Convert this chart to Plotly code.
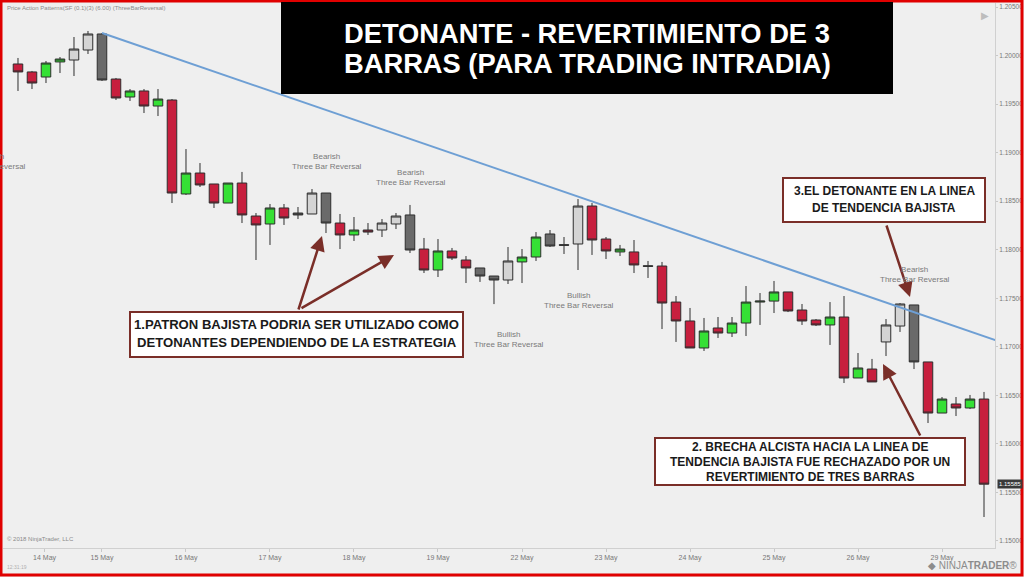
import plotly.graph_objects as go

# ---------------- data (4-hour EUR/USD style bars) ----------------
bar_index = list(range(70))
opens = [1.19913, 1.19831, 1.19779, 1.19934, 1.19954, 1.20057, 1.20222, 1.19758, 1.19573, 1.19635,
         1.19480, 1.19542, 1.18574, 1.18790, 1.18677, 1.18481, 1.18687, 1.18347, 1.18265, 1.18430,
         1.18378, 1.18368, 1.18584, 1.18275, 1.18152, 1.18203, 1.18203, 1.18265, 1.18358, 1.18007,
         1.17791, 1.17987, 1.17894, 1.17812, 1.17729, 1.17688, 1.17874, 1.17925, 1.18162, 1.18052,
         1.18059, 1.18450, 1.18110, 1.17977, 1.17977, 1.17835, 1.17832, 1.17461, 1.17266, 1.16988,
         1.17194, 1.17142, 1.17245, 1.17461, 1.17471, 1.17565, 1.17379, 1.17276, 1.17225, 1.17307,
         1.16679, 1.16771, 1.17050, 1.17214, 1.17431, 1.16844, 1.16318, 1.16411, 1.16370, 1.16462]
highs = [1.19975, 1.19841, 1.19944, 1.19985, 1.20191, 1.20253, 1.20232, 1.19769, 1.19655, 1.19655,
         1.19655, 1.19552, 1.19037, 1.18893, 1.18677, 1.18687, 1.18801, 1.18378, 1.18471, 1.18471,
         1.18440, 1.18625, 1.18584, 1.18368, 1.18337, 1.18275, 1.18316, 1.18378, 1.18461, 1.18121,
         1.18110, 1.18018, 1.17935, 1.17812, 1.17729, 1.18028, 1.18007, 1.18182, 1.18203, 1.18131,
         1.18522, 1.18481, 1.18131, 1.18049, 1.18100, 1.17884, 1.17874, 1.17523, 1.17400, 1.17297,
         1.17307, 1.17307, 1.17626, 1.17554, 1.17678, 1.17565, 1.17441, 1.17286, 1.17461, 1.17523,
         1.16936, 1.16875, 1.17286, 1.17451, 1.17431, 1.16844, 1.16483, 1.16483, 1.16504, 1.16535]
lows = [1.19635, 1.19655, 1.19717, 1.19820, 1.19789, 1.20016, 1.19738, 1.19542, 1.19532, 1.19408,
        1.19377, 1.18481, 1.18564, 1.18646, 1.18430, 1.18481, 1.18275, 1.17894, 1.18049, 1.18255,
        1.18316, 1.18368, 1.18172, 1.18007, 1.18090, 1.18152, 1.18131, 1.18213, 1.17966, 1.17760,
        1.17719, 1.17894, 1.17657, 1.17668, 1.17440, 1.17647, 1.17657, 1.17884, 1.18028, 1.17956,
        1.17791, 1.17946, 1.17904, 1.17935, 1.17760, 1.17709, 1.17183, 1.17050, 1.16988, 1.16957,
        1.17091, 1.17101, 1.17111, 1.17225, 1.17348, 1.17358, 1.17225, 1.17214, 1.17019, 1.16627,
        1.16679, 1.16638, 1.16905, 1.17153, 1.16771, 1.16215, 1.16318, 1.16287, 1.16359, 1.15247]
closes = [1.19831, 1.19717, 1.19923, 1.19964, 1.20067, 1.20222, 1.19748, 1.19563, 1.19635, 1.19480,
          1.19552, 1.18584, 1.18790, 1.18667, 1.18481, 1.18687, 1.18358, 1.18255, 1.18430, 1.18327,
          1.18358, 1.18584, 1.18275, 1.18152, 1.18203, 1.18182, 1.18275, 1.18347, 1.17997, 1.17791,
          1.17987, 1.17915, 1.17812, 1.17729, 1.17688, 1.17884, 1.17925, 1.18131, 1.18038, 1.18046,
          1.18450, 1.18100, 1.17987, 1.18007, 1.17843, 1.17829, 1.17451, 1.17266, 1.16988, 1.17163,
          1.17142, 1.17245, 1.17461, 1.17471, 1.17565, 1.17369, 1.17266, 1.17225, 1.17307, 1.16679,
          1.16782, 1.16638, 1.17225, 1.17441, 1.16844, 1.16318, 1.16462, 1.16370, 1.16462, 1.15585]
# bars flagged by the "Three Bar Reversal" pattern indicator (drawn in gray)
pattern_bars = [4, 5, 6, 20, 21, 22, 26, 27, 28, 33, 34, 35, 38, 39, 40, 45, 62, 63, 64]

day_tick_pos = [1.9, 6, 12, 18, 24, 30, 36, 42, 48, 54, 60, 66]
day_tick_labels = ["14 May", "15 May", "16 May", "17 May", "18 May", "19 May",
                   "22 May", "23 May", "24 May", "25 May", "26 May", "29 May"]
price_ticks = [1.150, 1.155, 1.160, 1.165, 1.170, 1.175, 1.180, 1.185, 1.190, 1.195, 1.200, 1.205]

trend_x = [6, 69.8]
trend_y = [1.20232, 1.17070]
last_price = 1.15585

# ---------------- layout geometry ----------------
W, H = 1024, 577
ML, MR, MT, MB = 3, 29, 3, 29
PW, PH = W - ML - MR, H - MT - MB


def px(x):
    return (x - ML) / PW


def py(y):
    return (H - MB - y) / PH


RED = "#c71f3e"
GREEN = "#35e035"
LGRAY = "#d4d4d4"
DGRAY = "#6a6a6a"
EDGE = "#2e2e2e"
BROWN = "#7a2e28"
BG = "#efefef"
FONT = "Liberation Sans, Arial"

fig = go.Figure()


def add_group(idx, inc_fill, dec_fill):
    if not idx:
        return
    fig.add_trace(go.Candlestick(
        x=[bar_index[i] for i in idx],
        open=[opens[i] for i in idx], high=[highs[i] for i in idx],
        low=[lows[i] for i in idx], close=[closes[i] for i in idx],
        increasing=dict(fillcolor=inc_fill, line=dict(color=EDGE, width=1)),
        decreasing=dict(fillcolor=dec_fill, line=dict(color=EDGE, width=1)),
        whiskerwidth=0, showlegend=False, hoverinfo="skip"))


normal = [i for i in bar_index if i not in pattern_bars]
add_group(normal, GREEN, RED)
add_group(pattern_bars, LGRAY, DGRAY)

fig.add_trace(go.Scatter(x=trend_x, y=trend_y, mode="lines",
                         line=dict(color="#6e9fd4", width=2), showlegend=False, hoverinfo="skip"))

shapes = []
annotations = []

# red frame
shapes.append(dict(type="rect", xref="paper", yref="paper",
                   x0=px(1), x1=px(1022), y0=py(575), y1=py(1),
                   line=dict(color="#e00000", width=3), fillcolor="rgba(0,0,0,0)", layer="above"))
# title box
shapes.append(dict(type="rect", xref="paper", yref="paper",
                   x0=px(281), x1=px(893), y0=py(94), y1=py(2),
                   line=dict(width=0), fillcolor="#000000", layer="above"))
for txt, yy in [("DETONANTE - REVERTIMIENTO DE 3", 33), ("BARRAS (PARA TRADING INTRADIA)", 64)]:
    annotations.append(dict(xref="paper", yref="paper", x=px(587), y=py(yy), text="<b>" + txt + "</b>",
                            showarrow=False, xanchor="center", yanchor="middle",
                            font=dict(family=FONT, size=27.3, color="#ffffff")))

# explanation boxes
boxes = [
    (130, 463, 312, 357, ["1.PATRON BAJISTA PODRIA SER UTILIZADO COMO",
                          "DETONANTES DEPENDIENDO DE LA ESTRATEGIA"], [325, 342], 13.1),
    (655, 965, 438, 485, ["2. BRECHA ALCISTA HACIA LA LINEA DE",
                          "TENDENCIA BAJISTA FUE RECHAZADO POR UN",
                          "REVERTIMIENTO DE TRES BARRAS"], [447, 462, 477], 12.0),
    (783, 985, 178, 222, ["3.EL DETONANTE EN LA LINEA",
                          "DE TENDENCIA BAJISTA"], [191, 208], 12.0),
]
for x0, x1, y0, y1, lines, ys, fs in boxes:
    shapes.append(dict(type="rect", xref="paper", yref="paper",
                       x0=px(x0), x1=px(x1), y0=py(y1), y1=py(y0),
                       line=dict(color=BROWN, width=2), fillcolor="#ffffff", layer="above"))
    for t, yy in zip(lines, ys):
        annotations.append(dict(xref="paper", yref="paper", x=px((x0 + x1) / 2), y=py(yy),
                                text="<b>" + t + "</b>", showarrow=False,
                                xanchor="center", yanchor="middle",
                                font=dict(family=FONT, size=fs, color="#1a1a1a")))

# arrows (tail pixel -> tip pixel)
arrows = [((298, 311), (322, 236)), ((300, 309), (394, 255)),
          ((921, 437), (883, 364)), ((886, 224), (910, 297))]
for (sx, sy), (tx, ty) in arrows:
    annotations.append(dict(xref="paper", yref="paper", x=px(tx), y=py(ty), text="",
                            showarrow=True, ax=sx - tx, ay=sy - ty, arrowhead=2, arrowsize=1.2,
                            arrowwidth=2.5, arrowcolor=BROWN, standoff=0, startstandoff=0))

# pattern labels
patt = [(327, 161, "Bearish<br>Three Bar Reversal"), (411, 177, "Bearish<br>Three Bar Reversal"),
        (509, 339, "Bullish<br>Three Bar Reversal"), (579, 300, "Bullish<br>Three Bar Reversal"),
        (915, 274, "Bearish<br>Three Bar Reversal")]
for x, y, t in patt:
    annotations.append(dict(xref="paper", yref="paper", x=px(x), y=py(y), text=t, showarrow=False,
                            xanchor="center", yanchor="middle", align="center",
                            font=dict(family=FONT, size=8, color="#7a7a7a")))
# label partly scrolled off the left edge, as in the original screenshot
annotations.append(dict(xref="paper", yref="paper", x=px(28), y=py(161),
                        text="Bearish<br>Three Bar Reversal", showarrow=False,
                        xanchor="right", yanchor="middle", align="center",
                        font=dict(family=FONT, size=8, color="#7a7a7a")))

# header / footer small texts
annotations.append(dict(xref="paper", yref="paper", x=px(5), y=py(8),
                        text="Price Action Patterns(SF (0.1)(3) (6.00) (ThreeBarReversal)",
                        showarrow=False, xanchor="left", yanchor="middle",
                        font=dict(family=FONT, size=6, color="#8a8a8a")))
annotations.append(dict(xref="paper", yref="paper", x=px(5), y=py(539),
                        text="© 2018 NinjaTrader, LLC", showarrow=False, xanchor="left", yanchor="middle",
                        font=dict(family=FONT, size=6, color="#8a8a8a")))
annotations.append(dict(xref="paper", yref="paper", x=px(5), y=py(567),
                        text="12:31:19", showarrow=False, xanchor="left", yanchor="middle",
                        font=dict(family=FONT, size=5, color="#b0b0b0")))
annotations.append(dict(xref="paper", yref="paper", x=px(1019), y=py(566),
                        text="◆ NINJA<b>TRADER</b>®", showarrow=False, xanchor="right", yanchor="middle",
                        font=dict(family=FONT, size=10, color="#8c8c8c")))
annotations.append(dict(xref="paper", yref="paper", x=px(985), y=py(15),
                        text="▶", showarrow=False, xanchor="center", yanchor="middle",
                        font=dict(family="DejaVu Sans", size=10, color="#bdbdbd")))
# last price marker
annotations.append(dict(xref="paper", yref="y", x=px(997), y=last_price, text="1.15585",
                        showarrow=False, xanchor="left", yanchor="middle", bgcolor="#3a3a3a",
                        borderpad=1, font=dict(family=FONT, size=6, color="#ffffff")))

fig.update_layout(
    width=W, height=H, margin=dict(l=ML, r=MR, t=MT, b=MB, autoexpand=False),
    paper_bgcolor=BG, plot_bgcolor=BG, boxgap=0.2, boxgroupgap=0.15,
    shapes=shapes, annotations=annotations, showlegend=False,
    xaxis=dict(range=[-1.071, 69.786], rangeslider=dict(visible=False), showgrid=False, zeroline=False,
               tickvals=day_tick_pos, ticktext=day_tick_labels, ticks="outside", ticklen=3,
               tickcolor="#c8c8c8", showline=True, linecolor="#d0d0d0", linewidth=1,
               tickfont=dict(family=FONT, size=7, color="#777777")),
    yaxis=dict(range=[1.149277, 1.205412], side="right", showgrid=False, zeroline=False,
               tickvals=price_ticks, tickformat=".5f", ticks="outside", ticklen=2,
               tickcolor="#c8c8c8", showline=True, linecolor="#d0d0d0", linewidth=1,
               tickfont=dict(family=FONT, size=6.5, color="#777777")),
)

fig.write_html("out.html", config={"displayModeBar": False},
               post_script="document.body.style.margin='0';")
